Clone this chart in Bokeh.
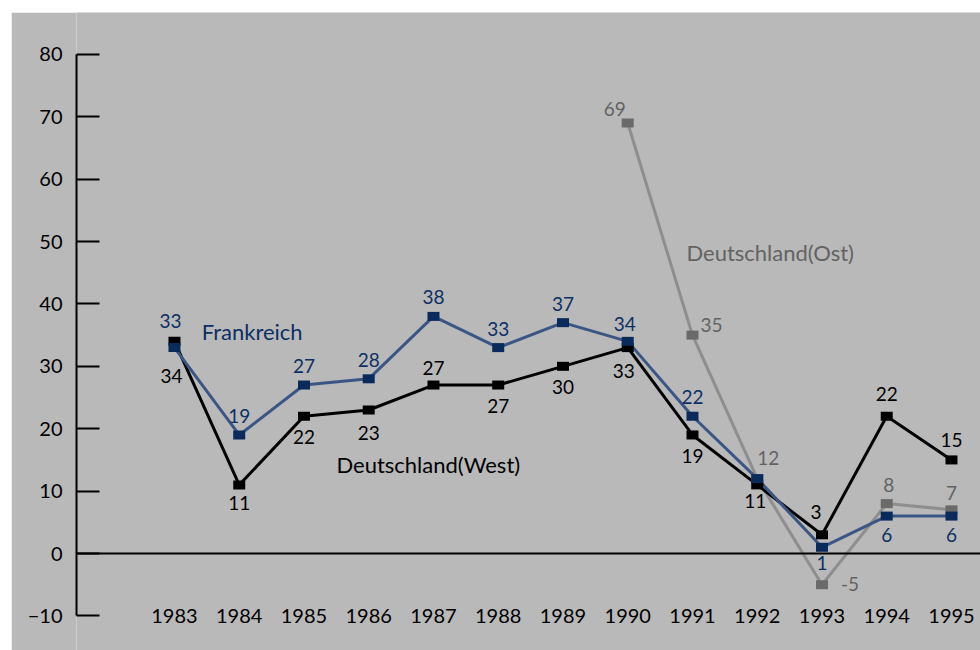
from bokeh.plotting import figure
from bokeh.models import ColumnDataSource, Span, Label, FixedTicker, LinearAxis, Range1d
from bokeh.core.properties import value
from bokeh.embed import file_html
from bokeh.resources import INLINE

# ---- data ----
years = [1983, 1984, 1985, 1986, 1987, 1988, 1989, 1990, 1991, 1992, 1993, 1994, 1995]
frankreich = [33, 19, 27, 28, 38, 33, 37, 34, 22, 12, 1, 6, 6]
west = [34, 11, 22, 23, 27, 27, 30, 33, 19, 11, 3, 22, 15]
ost_years = [1990, 1991, 1992, 1993, 1994, 1995]
ost = [69, 35, 12, -5, 8, 7]
y_ticks = [-10, 0, 10, 20, 30, 40, 50, 60, 70, 80]
series_names = ["Frankreich", "Deutschland(West)", "Deutschland(Ost)"]

# ---- label placement (screen pixel offsets), styling only; None = label hidden ----
fr_off = [(-4, -27), (0, -19), (0, -19), (0, -19), (0, -19), (0, -19), (0, -19),
          (-3, -17), (0, -19), None, (0, 16), (0, 19), (0, 19)]
we_off = [(-3, 35), (0, 18), (0, 21), (0, 23), (0, -17), (0, 21), (0, 21),
          (-4, 23), (0, 21), (-2, 16), (-6, -23), (0, -22), (0, -20)]
os_off = [(-13, -14), (19, -10), (11, -21), (28, -1), (2, -19), (0, -17)]

FONT = "Lato"
BG = "#b9b9b9"
BLUE_LINE = "#3b5685"
BLUE_MARK = "#0b2a5c"
BLUE_TEXT = "#0d2f63"
GRAY_LINE = "#8e8e8e"
GRAY_MARK = "#6a6a6a"
GRAY_TEXT = "#636363"

p = figure(width=969, height=638, output_backend="svg", toolbar_location=None,
           x_range=Range1d(1981.487, 1995.448), y_range=Range1d(-15.54, 86.70),
           min_border_left=65, min_border_right=0, min_border_top=0, min_border_bottom=0,
           x_axis_location=None, y_axis_location=None,
           background_fill_color=BG, border_fill_color=BG, outline_line_color=None)
p.margin = (12, 0, 0, 11)
p.grid.visible = False

# y axis
yax = LinearAxis(bounds=(-10, 80), ticker=FixedTicker(ticks=y_ticks))
yax.axis_line_color = "black"
yax.axis_line_width = 2
yax.major_tick_line_color = "black"
yax.major_tick_line_width = 2
yax.major_tick_in = 23
yax.major_tick_out = 0
yax.minor_tick_line_color = None
yax.major_label_standoff = 14
yax.major_label_text_font = FONT
yax.major_label_text_font_size = "20px"
yax.major_label_text_color = "black"
p.add_layout(yax, "left")

# x axis at a fixed location inside the frame
xax = LinearAxis(ticker=FixedTicker(ticks=years), fixed_location=-7)
xax.axis_line_color = None
xax.major_tick_line_color = None
xax.minor_tick_line_color = None
xax.major_label_standoff = 6
xax.major_label_text_font = FONT
xax.major_label_text_font_size = "20px"
xax.major_label_text_color = "black"
p.add_layout(xax, "below")

p.add_layout(Span(location=0, dimension="width", line_color="black", line_width=2))

def src(xs, ys, offs):
    keep = [i for i, o in enumerate(offs) if o is not None]
    return (ColumnDataSource(dict(x=xs, y=ys)),
            ColumnDataSource(dict(x=[xs[i] for i in keep], y=[ys[i] for i in keep],
                                  t=[str(ys[i]) for i in keep],
                                  dx=[offs[i][0] for i in keep],
                                  dy=[offs[i][1] for i in keep])))

s_fr, l_fr = src(years, frankreich, fr_off)
s_we, l_we = src(years, west, we_off)
s_os, l_os = src(ost_years, ost, os_off)

p.line("x", "y", source=s_os, line_color=GRAY_LINE, line_width=3)
p.line("x", "y", source=s_we, line_color="black", line_width=3)
p.line("x", "y", source=s_fr, line_color=BLUE_LINE, line_width=3)

for s, c in [(s_os, GRAY_MARK), (s_we, "black"), (s_fr, BLUE_MARK)]:
    p.rect("x", "y", width=12, height=9, width_units="screen", height_units="screen",
           source=s, fill_color=c, line_color=None)

for s, c in [(l_os, GRAY_TEXT), (l_we, "black"), (l_fr, BLUE_TEXT)]:
    p.text("x", "y", text="t", source=s, x_offset="dx", y_offset="dy",
           text_align="center", text_baseline="middle", text_color=c,
           text_font=value(FONT), text_font_size="19px")

for name, (lx, ly), c in zip(series_names,
                             [(1984.20, 35.6), (1986.92, 14.3), (1992.2, 48.2)],
                             [BLUE_TEXT, "black", GRAY_TEXT]):
    p.add_layout(Label(x=lx, y=ly, text=name, text_align="center", text_baseline="middle",
                       text_color=c, text_font=FONT, text_font_size="22px"))

open("out.html", "w").write(file_html(p, INLINE))
